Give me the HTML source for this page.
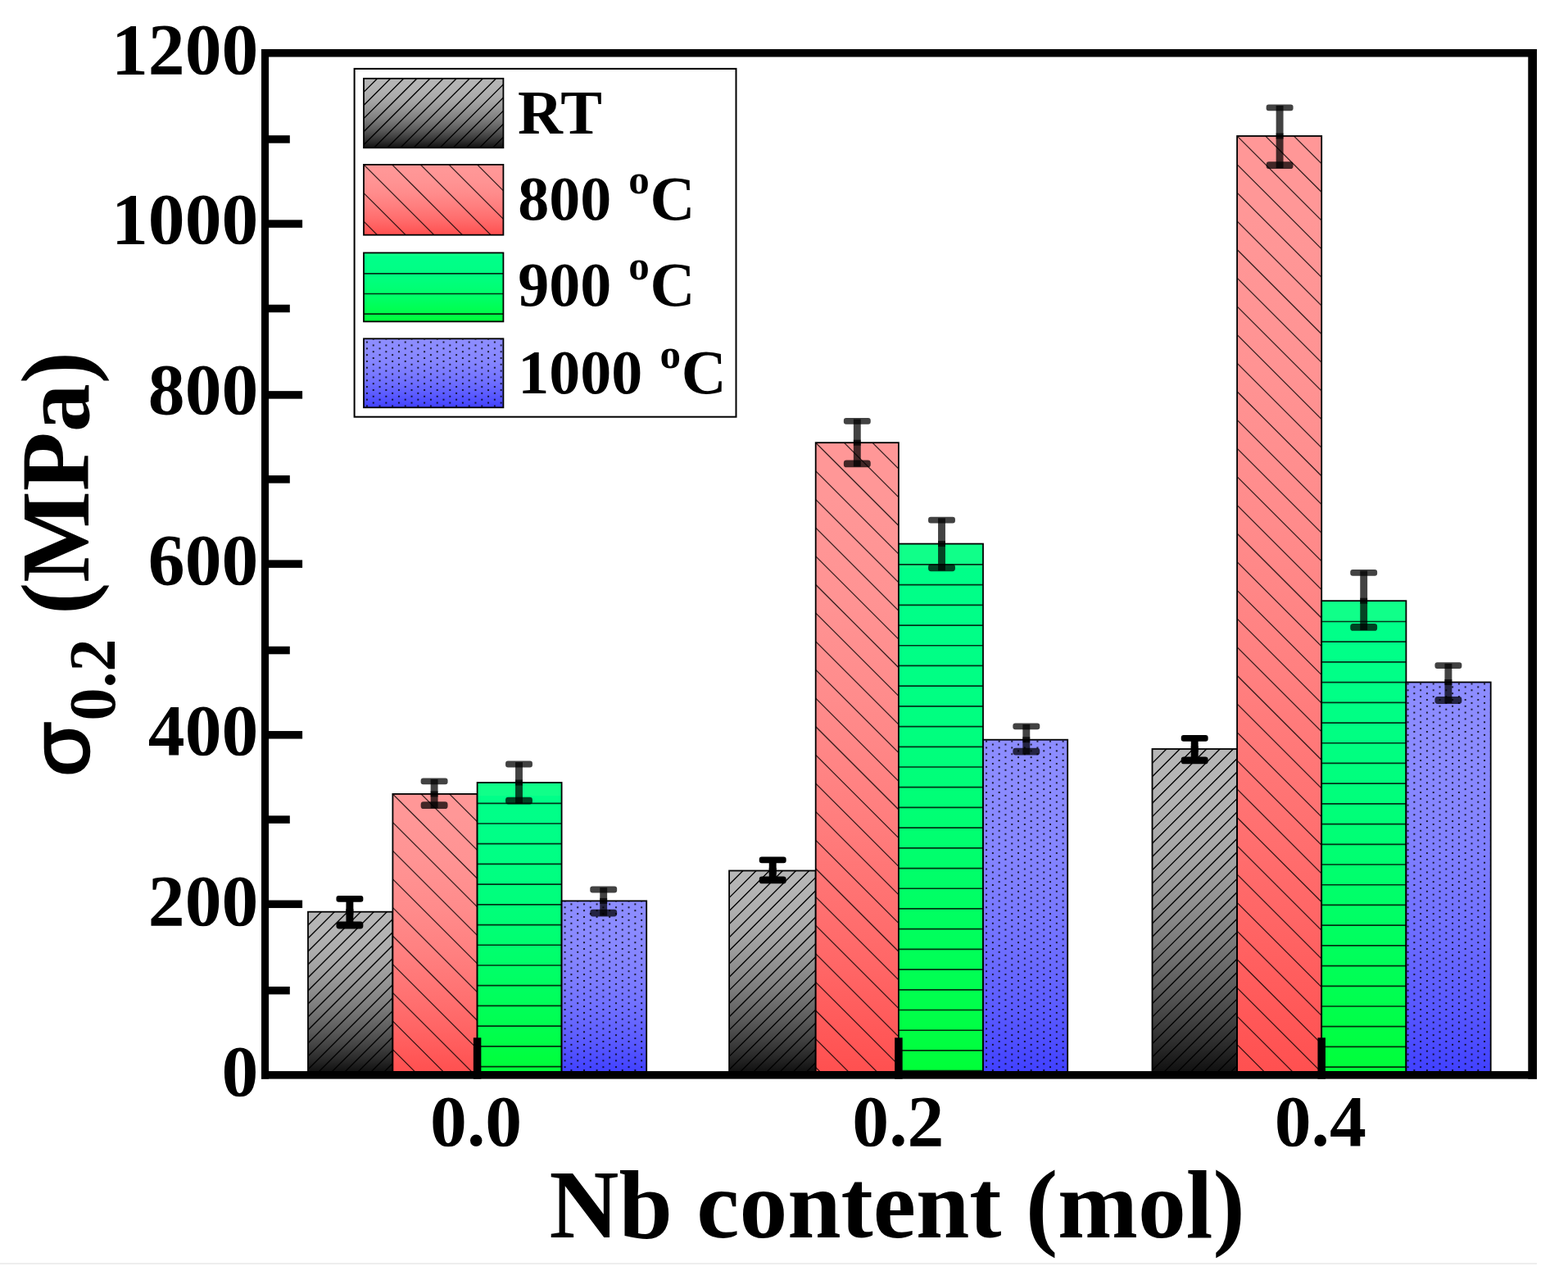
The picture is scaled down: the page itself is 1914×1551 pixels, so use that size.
<!DOCTYPE html>
<html lang="en"><head><meta charset="utf-8"><title>Yield strength vs Nb content</title>
<style>
html,body{margin:0;padding:0;background:#fff;}
body{width:1914px;height:1551px;overflow:hidden;}
svg{display:block;}
text{font-family:"Liberation Serif","DejaVu Serif",serif;font-weight:bold;fill:#000;}
.h{stroke:#000;stroke-width:1.50;fill:none;}
.b{stroke:#000;stroke-width:1.80;fill:none;}
</style></head><body>
<svg width="1914" height="1551" viewBox="0 0 1914 1551">
<defs>
<linearGradient id="g0" x1="0" y1="0" x2="0" y2="1"><stop offset="0.0000" stop-color="#b6b6b6"/><stop offset="0.0833" stop-color="#b5b5b5"/><stop offset="0.1667" stop-color="#b1b1b1"/><stop offset="0.2500" stop-color="#acacac"/><stop offset="0.3333" stop-color="#a4a4a4"/><stop offset="0.4167" stop-color="#999999"/><stop offset="0.5000" stop-color="#8c8c8c"/><stop offset="0.5833" stop-color="#7e7e7e"/><stop offset="0.6667" stop-color="#6c6c6c"/><stop offset="0.7500" stop-color="#595959"/><stop offset="0.8333" stop-color="#434343"/><stop offset="0.9167" stop-color="#2b2b2b"/><stop offset="1.0000" stop-color="#101010"/></linearGradient>
<linearGradient id="g1" x1="0" y1="0" x2="0" y2="1"><stop offset="0.0000" stop-color="#ff9797"/><stop offset="0.0833" stop-color="#ff9797"/><stop offset="0.1667" stop-color="#ff9595"/><stop offset="0.2500" stop-color="#ff9393"/><stop offset="0.3333" stop-color="#ff8f8f"/><stop offset="0.4167" stop-color="#ff8b8b"/><stop offset="0.5000" stop-color="#ff8585"/><stop offset="0.5833" stop-color="#ff7f7f"/><stop offset="0.6667" stop-color="#ff7777"/><stop offset="0.7500" stop-color="#ff6f6f"/><stop offset="0.8333" stop-color="#ff6666"/><stop offset="0.9167" stop-color="#ff5b5b"/><stop offset="1.0000" stop-color="#ff5050"/></linearGradient>
<linearGradient id="g2" x1="0" y1="0" x2="0" y2="1"><stop offset="0.0000" stop-color="#10ff89"/><stop offset="0.0450" stop-color="#10ff89"/><stop offset="0.0460" stop-color="#00ff89"/><stop offset="0.0833" stop-color="#00ff88"/><stop offset="0.1667" stop-color="#00ff87"/><stop offset="0.2500" stop-color="#00ff84"/><stop offset="0.3333" stop-color="#00ff80"/><stop offset="0.4167" stop-color="#00ff7b"/><stop offset="0.5000" stop-color="#00ff75"/><stop offset="0.5833" stop-color="#00ff6d"/><stop offset="0.6667" stop-color="#00ff65"/><stop offset="0.7500" stop-color="#00ff5b"/><stop offset="0.8333" stop-color="#00ff51"/><stop offset="0.9167" stop-color="#00ff45"/><stop offset="1.0000" stop-color="#00ff38"/></linearGradient>
<linearGradient id="g3" x1="0" y1="0" x2="0" y2="1"><stop offset="0.0000" stop-color="#8d8dff"/><stop offset="0.0833" stop-color="#8c8cff"/><stop offset="0.1667" stop-color="#8b8bff"/><stop offset="0.2500" stop-color="#8888ff"/><stop offset="0.3333" stop-color="#8585ff"/><stop offset="0.4167" stop-color="#8080ff"/><stop offset="0.5000" stop-color="#7a7aff"/><stop offset="0.5833" stop-color="#7373ff"/><stop offset="0.6667" stop-color="#6b6bff"/><stop offset="0.7500" stop-color="#6262ff"/><stop offset="0.8333" stop-color="#5858ff"/><stop offset="0.9167" stop-color="#4d4dff"/><stop offset="1.0000" stop-color="#4141ff"/></linearGradient>
<pattern id="dots" patternUnits="userSpaceOnUse" x="693.502" y="1101.452" width="15.590" height="7.794">
<rect x="2.897" y="0.948" width="2" height="2" fill="#000" fill-opacity="0.8"/>
<rect x="10.692" y="4.845" width="2" height="2" fill="#000" fill-opacity="0.8"/>
</pattern>
</defs>
<rect x="0" y="0" width="1914" height="1551" fill="#fff"/>
<rect x="0" y="1541" width="1876" height="2" fill="#eeeeee"/>
<g id="bars">
<clipPath id="c0"><rect x="376.00" y="1112.70" width="103.40" height="195.40"/></clipPath>
<rect x="376.00" y="1112.70" width="103.40" height="195.40" fill="url(#g0)"/>
<path clip-path="url(#c0)" fill="none" stroke="#000" stroke-opacity="1.00" stroke-width="1.35" shape-rendering="auto" d="M394.30 1110.70 L194.90 1310.10M410.30 1110.70 L210.90 1310.10M426.30 1110.70 L226.90 1310.10M442.30 1110.70 L242.90 1310.10M458.30 1110.70 L258.90 1310.10M474.30 1110.70 L274.90 1310.10M490.30 1110.70 L290.90 1310.10M506.30 1110.70 L306.90 1310.10M522.30 1110.70 L322.90 1310.10M538.30 1110.70 L338.90 1310.10M554.30 1110.70 L354.90 1310.10M570.30 1110.70 L370.90 1310.10M586.30 1110.70 L386.90 1310.10M602.30 1110.70 L402.90 1310.10M618.30 1110.70 L418.90 1310.10M634.30 1110.70 L434.90 1310.10M650.30 1110.70 L450.90 1310.10M666.30 1110.70 L466.90 1310.10"/>
<rect class="b" x="376.00" y="1112.70" width="103.40" height="195.40"/>
<clipPath id="c1"><rect x="479.40" y="968.90" width="103.20" height="339.20"/></clipPath>
<rect x="479.40" y="968.90" width="103.20" height="339.20" fill="url(#g1)"/>
<path clip-path="url(#c1)" fill="none" stroke="#000" stroke-opacity="0.78" stroke-width="1.25" shape-rendering="auto" d="M130.90 966.90 L474.10 1310.10M165.55 966.90 L508.75 1310.10M200.20 966.90 L543.40 1310.10M234.85 966.90 L578.05 1310.10M269.50 966.90 L612.70 1310.10M304.15 966.90 L647.35 1310.10M338.80 966.90 L682.00 1310.10M373.45 966.90 L716.65 1310.10M408.10 966.90 L751.30 1310.10M442.75 966.90 L785.95 1310.10M477.40 966.90 L820.60 1310.10M512.05 966.90 L855.25 1310.10M546.70 966.90 L889.90 1310.10"/>
<rect class="b" x="479.40" y="968.90" width="103.20" height="339.20"/>
<clipPath id="c2"><rect x="582.60" y="955.00" width="103.00" height="353.10"/></clipPath>
<rect x="582.60" y="955.00" width="103.00" height="353.10" fill="url(#g2)"/>
<path clip-path="url(#c2)" fill="none" stroke="#000" stroke-opacity="0.80" stroke-width="1.70" shape-rendering="auto" d="M582.60 980.30 H685.60M582.60 1005.01 H685.60M582.60 1029.72 H685.60M582.60 1054.43 H685.60M582.60 1079.14 H685.60M582.60 1103.85 H685.60M582.60 1128.56 H685.60M582.60 1153.27 H685.60M582.60 1177.98 H685.60M582.60 1202.69 H685.60M582.60 1227.40 H685.60M582.60 1252.11 H685.60M582.60 1276.82 H685.60M582.60 1301.53 H685.60"/>
<rect class="b" x="582.60" y="955.00" width="103.00" height="353.10"/>
<clipPath id="c3"><rect x="685.60" y="1099.40" width="103.60" height="208.70"/></clipPath>
<rect x="685.60" y="1099.40" width="103.60" height="208.70" fill="url(#g3)"/>
<rect x="685.60" y="1099.40" width="103.60" height="208.70" fill="url(#dots)"/>
<rect class="b" x="685.60" y="1099.40" width="103.60" height="208.70"/>
<clipPath id="c4"><rect x="890.10" y="1062.50" width="105.60" height="245.60"/></clipPath>
<rect x="890.10" y="1062.50" width="105.60" height="245.60" fill="url(#g0)"/>
<path clip-path="url(#c4)" fill="none" stroke="#000" stroke-opacity="1.00" stroke-width="1.35" shape-rendering="auto" d="M908.95 1060.50 L659.35 1310.10M925.10 1060.50 L675.50 1310.10M941.25 1060.50 L691.65 1310.10M957.40 1060.50 L707.80 1310.10M973.55 1060.50 L723.95 1310.10M989.70 1060.50 L740.10 1310.10M1005.85 1060.50 L756.25 1310.10M1022.00 1060.50 L772.40 1310.10M1038.15 1060.50 L788.55 1310.10M1054.30 1060.50 L804.70 1310.10M1070.45 1060.50 L820.85 1310.10M1086.60 1060.50 L837.00 1310.10M1102.75 1060.50 L853.15 1310.10M1118.90 1060.50 L869.30 1310.10M1135.05 1060.50 L885.45 1310.10M1151.20 1060.50 L901.60 1310.10M1167.35 1060.50 L917.75 1310.10M1183.50 1060.50 L933.90 1310.10M1199.65 1060.50 L950.05 1310.10M1215.80 1060.50 L966.20 1310.10M1231.95 1060.50 L982.35 1310.10"/>
<rect class="b" x="890.10" y="1062.50" width="105.60" height="245.60"/>
<clipPath id="c5"><rect x="995.70" y="540.20" width="101.20" height="767.90"/></clipPath>
<rect x="995.70" y="540.20" width="101.20" height="767.90" fill="url(#g1)"/>
<path clip-path="url(#c5)" fill="none" stroke="#000" stroke-opacity="0.78" stroke-width="1.25" shape-rendering="auto" d="M196.75 538.20 L968.65 1310.10M231.40 538.20 L1003.30 1310.10M266.05 538.20 L1037.95 1310.10M300.70 538.20 L1072.60 1310.10M335.35 538.20 L1107.25 1310.10M370.00 538.20 L1141.90 1310.10M404.65 538.20 L1176.55 1310.10M439.30 538.20 L1211.20 1310.10M473.95 538.20 L1245.85 1310.10M508.60 538.20 L1280.50 1310.10M543.25 538.20 L1315.15 1310.10M577.90 538.20 L1349.80 1310.10M612.55 538.20 L1384.45 1310.10M647.20 538.20 L1419.10 1310.10M681.85 538.20 L1453.75 1310.10M716.50 538.20 L1488.40 1310.10M751.15 538.20 L1523.05 1310.10M785.80 538.20 L1557.70 1310.10M820.45 538.20 L1592.35 1310.10M855.10 538.20 L1627.00 1310.10M889.75 538.20 L1661.65 1310.10M924.40 538.20 L1696.30 1310.10M959.05 538.20 L1730.95 1310.10M993.70 538.20 L1765.60 1310.10M1028.35 538.20 L1800.25 1310.10M1063.00 538.20 L1834.90 1310.10"/>
<rect class="b" x="995.70" y="540.20" width="101.20" height="767.90"/>
<clipPath id="c6"><rect x="1096.90" y="663.60" width="103.10" height="644.50"/></clipPath>
<rect x="1096.90" y="663.60" width="103.10" height="644.50" fill="url(#g2)"/>
<path clip-path="url(#c6)" fill="none" stroke="#000" stroke-opacity="0.80" stroke-width="1.70" shape-rendering="auto" d="M1096.90 688.90 H1200.00M1096.90 713.61 H1200.00M1096.90 738.32 H1200.00M1096.90 763.03 H1200.00M1096.90 787.74 H1200.00M1096.90 812.45 H1200.00M1096.90 837.16 H1200.00M1096.90 861.87 H1200.00M1096.90 886.58 H1200.00M1096.90 911.29 H1200.00M1096.90 936.00 H1200.00M1096.90 960.71 H1200.00M1096.90 985.42 H1200.00M1096.90 1010.13 H1200.00M1096.90 1034.84 H1200.00M1096.90 1059.55 H1200.00M1096.90 1084.26 H1200.00M1096.90 1108.97 H1200.00M1096.90 1133.68 H1200.00M1096.90 1158.39 H1200.00M1096.90 1183.10 H1200.00M1096.90 1207.81 H1200.00M1096.90 1232.52 H1200.00M1096.90 1257.23 H1200.00M1096.90 1281.94 H1200.00M1096.90 1306.65 H1200.00"/>
<rect class="b" x="1096.90" y="663.60" width="103.10" height="644.50"/>
<clipPath id="c7"><rect x="1200.00" y="902.70" width="103.20" height="405.40"/></clipPath>
<rect x="1200.00" y="902.70" width="103.20" height="405.40" fill="url(#g3)"/>
<rect x="1200.00" y="902.70" width="103.20" height="405.40" fill="url(#dots)"/>
<rect class="b" x="1200.00" y="902.70" width="103.20" height="405.40"/>
<clipPath id="c8"><rect x="1406.50" y="914.00" width="103.60" height="394.10"/></clipPath>
<rect x="1406.50" y="914.00" width="103.60" height="394.10" fill="url(#g0)"/>
<path clip-path="url(#c8)" fill="none" stroke="#000" stroke-opacity="1.00" stroke-width="1.35" shape-rendering="auto" d="M1425.90 912.00 L1027.80 1310.10M1442.20 912.00 L1044.10 1310.10M1458.50 912.00 L1060.40 1310.10M1474.80 912.00 L1076.70 1310.10M1491.10 912.00 L1093.00 1310.10M1507.40 912.00 L1109.30 1310.10M1523.70 912.00 L1125.60 1310.10M1540.00 912.00 L1141.90 1310.10M1556.30 912.00 L1158.20 1310.10M1572.60 912.00 L1174.50 1310.10M1588.90 912.00 L1190.80 1310.10M1605.20 912.00 L1207.10 1310.10M1621.50 912.00 L1223.40 1310.10M1637.80 912.00 L1239.70 1310.10M1654.10 912.00 L1256.00 1310.10M1670.40 912.00 L1272.30 1310.10M1686.70 912.00 L1288.60 1310.10M1703.00 912.00 L1304.90 1310.10M1719.30 912.00 L1321.20 1310.10M1735.60 912.00 L1337.50 1310.10M1751.90 912.00 L1353.80 1310.10M1768.20 912.00 L1370.10 1310.10M1784.50 912.00 L1386.40 1310.10M1800.80 912.00 L1402.70 1310.10M1817.10 912.00 L1419.00 1310.10M1833.40 912.00 L1435.30 1310.10M1849.70 912.00 L1451.60 1310.10M1866.00 912.00 L1467.90 1310.10M1882.30 912.00 L1484.20 1310.10M1898.60 912.00 L1500.50 1310.10"/>
<rect class="b" x="1406.50" y="914.00" width="103.60" height="394.10"/>
<clipPath id="c9"><rect x="1510.10" y="166.00" width="103.10" height="1142.10"/></clipPath>
<rect x="1510.10" y="166.00" width="103.10" height="1142.10" fill="url(#g1)"/>
<path clip-path="url(#c9)" fill="none" stroke="#000" stroke-opacity="0.78" stroke-width="1.25" shape-rendering="auto" d="M364.65 164.00 L1510.75 1310.10M399.30 164.00 L1545.40 1310.10M433.95 164.00 L1580.05 1310.10M468.60 164.00 L1614.70 1310.10M503.25 164.00 L1649.35 1310.10M537.90 164.00 L1684.00 1310.10M572.55 164.00 L1718.65 1310.10M607.20 164.00 L1753.30 1310.10M641.85 164.00 L1787.95 1310.10M676.50 164.00 L1822.60 1310.10M711.15 164.00 L1857.25 1310.10M745.80 164.00 L1891.90 1310.10M780.45 164.00 L1926.55 1310.10M815.10 164.00 L1961.20 1310.10M849.75 164.00 L1995.85 1310.10M884.40 164.00 L2030.50 1310.10M919.05 164.00 L2065.15 1310.10M953.70 164.00 L2099.80 1310.10M988.35 164.00 L2134.45 1310.10M1023.00 164.00 L2169.10 1310.10M1057.65 164.00 L2203.75 1310.10M1092.30 164.00 L2238.40 1310.10M1126.95 164.00 L2273.05 1310.10M1161.60 164.00 L2307.70 1310.10M1196.25 164.00 L2342.35 1310.10M1230.90 164.00 L2377.00 1310.10M1265.55 164.00 L2411.65 1310.10M1300.20 164.00 L2446.30 1310.10M1334.85 164.00 L2480.95 1310.10M1369.50 164.00 L2515.60 1310.10M1404.15 164.00 L2550.25 1310.10M1438.80 164.00 L2584.90 1310.10M1473.45 164.00 L2619.55 1310.10M1508.10 164.00 L2654.20 1310.10M1542.75 164.00 L2688.85 1310.10M1577.40 164.00 L2723.50 1310.10"/>
<rect class="b" x="1510.10" y="166.00" width="103.10" height="1142.10"/>
<clipPath id="c10"><rect x="1613.20" y="733.20" width="103.20" height="574.90"/></clipPath>
<rect x="1613.20" y="733.20" width="103.20" height="574.90" fill="url(#g2)"/>
<path clip-path="url(#c10)" fill="none" stroke="#000" stroke-opacity="0.80" stroke-width="1.70" shape-rendering="auto" d="M1613.20 758.50 H1716.40M1613.20 783.21 H1716.40M1613.20 807.92 H1716.40M1613.20 832.63 H1716.40M1613.20 857.34 H1716.40M1613.20 882.05 H1716.40M1613.20 906.76 H1716.40M1613.20 931.47 H1716.40M1613.20 956.18 H1716.40M1613.20 980.89 H1716.40M1613.20 1005.60 H1716.40M1613.20 1030.31 H1716.40M1613.20 1055.02 H1716.40M1613.20 1079.73 H1716.40M1613.20 1104.44 H1716.40M1613.20 1129.15 H1716.40M1613.20 1153.86 H1716.40M1613.20 1178.57 H1716.40M1613.20 1203.28 H1716.40M1613.20 1227.99 H1716.40M1613.20 1252.70 H1716.40M1613.20 1277.41 H1716.40M1613.20 1302.12 H1716.40"/>
<rect class="b" x="1613.20" y="733.20" width="103.20" height="574.90"/>
<clipPath id="c11"><rect x="1716.40" y="832.50" width="103.30" height="475.60"/></clipPath>
<rect x="1716.40" y="832.50" width="103.30" height="475.60" fill="url(#g3)"/>
<rect x="1716.40" y="832.50" width="103.30" height="475.60" fill="url(#dots)"/>
<rect class="b" x="1716.40" y="832.50" width="103.30" height="475.60"/>
</g>
<g id="errors">
<g fill="#000" fill-opacity="1.00"><rect x="422.45" y="1094.40" width="8.90" height="21.80"/><rect x="422.45" y="1109.20" width="8.90" height="23.30"/><rect x="410.45" y="1092.90" width="32.90" height="7.80" rx="3" ry="3"/><rect x="410.45" y="1124.60" width="32.90" height="8.80" rx="3.4" ry="3.4"/></g>
<g fill="#000" fill-opacity="0.74"><rect x="525.65" y="950.90" width="8.90" height="21.50"/><rect x="525.65" y="965.40" width="8.90" height="20.80"/><rect x="513.65" y="949.40" width="32.90" height="7.80" rx="3" ry="3"/><rect x="513.65" y="978.30" width="32.90" height="8.80" rx="3.4" ry="3.4"/></g>
<g fill="#000" fill-opacity="0.74"><rect x="629.05" y="930.10" width="8.90" height="28.40"/><rect x="629.05" y="951.50" width="8.90" height="29.10"/><rect x="617.05" y="928.60" width="32.90" height="7.80" rx="3" ry="3"/><rect x="617.05" y="972.70" width="32.90" height="8.80" rx="3.4" ry="3.4"/></g>
<g fill="#000" fill-opacity="0.74"><rect x="732.25" y="1083.10" width="8.90" height="19.80"/><rect x="732.25" y="1095.90" width="8.90" height="21.70"/><rect x="720.25" y="1081.60" width="32.90" height="7.80" rx="3" ry="3"/><rect x="720.25" y="1109.70" width="32.90" height="8.80" rx="3.4" ry="3.4"/></g>
<g fill="#000" fill-opacity="1.00"><rect x="938.75" y="1047.00" width="8.90" height="19.00"/><rect x="938.75" y="1059.00" width="8.90" height="18.40"/><rect x="926.75" y="1045.50" width="32.90" height="7.80" rx="3" ry="3"/><rect x="926.75" y="1069.50" width="32.90" height="8.80" rx="3.4" ry="3.4"/></g>
<g fill="#000" fill-opacity="0.74"><rect x="1041.85" y="511.50" width="8.90" height="32.20"/><rect x="1041.85" y="536.70" width="8.90" height="32.70"/><rect x="1029.85" y="510.00" width="32.90" height="7.80" rx="3" ry="3"/><rect x="1029.85" y="561.50" width="32.90" height="8.80" rx="3.4" ry="3.4"/></g>
<g fill="#000" fill-opacity="0.74"><rect x="1145.05" y="632.30" width="8.90" height="34.80"/><rect x="1145.05" y="660.10" width="8.90" height="36.20"/><rect x="1133.05" y="630.80" width="32.90" height="7.80" rx="3" ry="3"/><rect x="1133.05" y="688.40" width="32.90" height="8.80" rx="3.4" ry="3.4"/></g>
<g fill="#000" fill-opacity="0.74"><rect x="1248.35" y="884.00" width="8.90" height="22.20"/><rect x="1248.35" y="899.20" width="8.90" height="21.40"/><rect x="1236.35" y="882.50" width="32.90" height="7.80" rx="3" ry="3"/><rect x="1236.35" y="912.70" width="32.90" height="8.80" rx="3.4" ry="3.4"/></g>
<g fill="#000" fill-opacity="1.00"><rect x="1453.75" y="898.40" width="8.90" height="19.10"/><rect x="1453.75" y="910.50" width="8.90" height="20.90"/><rect x="1441.75" y="896.90" width="32.90" height="7.80" rx="3" ry="3"/><rect x="1441.75" y="923.50" width="32.90" height="8.80" rx="3.4" ry="3.4"/></g>
<g fill="#000" fill-opacity="0.74"><rect x="1557.65" y="128.90" width="8.90" height="40.60"/><rect x="1557.65" y="162.50" width="8.90" height="42.70"/><rect x="1545.65" y="127.40" width="32.90" height="7.80" rx="3" ry="3"/><rect x="1545.65" y="197.30" width="32.90" height="8.80" rx="3.4" ry="3.4"/></g>
<g fill="#000" fill-opacity="0.74"><rect x="1660.25" y="696.50" width="8.90" height="40.20"/><rect x="1660.25" y="729.70" width="8.90" height="39.20"/><rect x="1648.25" y="695.00" width="32.90" height="7.80" rx="3" ry="3"/><rect x="1648.25" y="761.00" width="32.90" height="8.80" rx="3.4" ry="3.4"/></g>
<g fill="#000" fill-opacity="0.74"><rect x="1763.45" y="809.80" width="8.90" height="26.20"/><rect x="1763.45" y="829.00" width="8.90" height="29.00"/><rect x="1751.45" y="808.30" width="32.90" height="7.80" rx="3" ry="3"/><rect x="1751.45" y="850.10" width="32.90" height="8.80" rx="3.4" ry="3.4"/></g>
</g>
<g id="axes" fill="#000">
<rect x="319.00" y="60.00" width="9.10" height="1256.60"/>
<rect x="1865.30" y="60.00" width="10.70" height="1256.60"/>
<rect x="319.00" y="60.00" width="1557.00" height="9.50"/>
<rect x="319.00" y="1307.10" width="1557.00" height="9.50"/>
<rect x="319.00" y="1203.95" width="34.80" height="9.50"/>
<rect x="319.00" y="1098.55" width="50.10" height="9.50"/>
<rect x="319.00" y="995.35" width="34.80" height="9.50"/>
<rect x="319.00" y="892.05" width="50.10" height="9.50"/>
<rect x="319.00" y="788.80" width="34.80" height="9.50"/>
<rect x="319.00" y="683.40" width="50.10" height="9.50"/>
<rect x="319.00" y="580.15" width="34.80" height="9.50"/>
<rect x="319.00" y="477.15" width="50.10" height="9.50"/>
<rect x="319.00" y="371.75" width="34.80" height="9.50"/>
<rect x="319.00" y="268.35" width="50.10" height="9.50"/>
<rect x="319.00" y="165.20" width="34.80" height="9.50"/>
<rect x="577.85" y="1266.30" width="9.50" height="50.30"/>
<rect x="1092.15" y="1266.30" width="9.50" height="50.30"/>
<rect x="1608.45" y="1266.30" width="9.50" height="50.30"/>
</g>
<g id="ylabels" font-size="89.7" text-anchor="end">
<text x="315.4" y="1336.70">0</text>
<text x="315.4" y="1128.85">200</text>
<text x="315.4" y="921.00">400</text>
<text x="315.4" y="713.15">600</text>
<text x="315.4" y="505.30">800</text>
<text x="315.4" y="297.45">1000</text>
<text x="315.4" y="89.60">1200</text>
</g>
<g id="xlabels" font-size="89.7" text-anchor="middle">
<text x="581.10" y="1398.0">0.0</text>
<text x="1096.40" y="1398.0">0.2</text>
<text x="1611.70" y="1398.0">0.4</text>
</g>
<text id="xtitle" x="1095.1" y="1510.0" font-size="117.6" text-anchor="middle">Nb content (mol)</text>
<g id="ytitle">
<text transform="translate(108.00 947.70) rotate(-90) scale(1 0.920)" font-size="108.0" style="font-family:'Liberation Sans','DejaVu Sans',sans-serif;font-weight:normal" stroke="#000" stroke-width="2.8">σ</text>
<text transform="translate(108 946) rotate(-90)" font-size="118"><tspan x="66.5" y="32.3" font-size="80">0.2</tspan><tspan x="196" y="0">(MPa)</tspan></text>
</g>
<g id="legend">
<rect x="432.6" y="83.9" width="465.9" height="424.8" fill="#fff" stroke="#000" stroke-width="2"/>
<clipPath id="c12"><rect x="444.00" y="95.80" width="170.40" height="84.50"/></clipPath>
<rect x="444.00" y="95.80" width="170.40" height="84.50" fill="url(#g0)"/>
<path clip-path="url(#c12)" fill="none" stroke="#000" stroke-opacity="1.00" stroke-width="1.35" shape-rendering="auto" d="M462.60 93.80 L374.10 182.30M478.70 93.80 L390.20 182.30M494.80 93.80 L406.30 182.30M510.90 93.80 L422.40 182.30M527.00 93.80 L438.50 182.30M543.10 93.80 L454.60 182.30M559.20 93.80 L470.70 182.30M575.30 93.80 L486.80 182.30M591.40 93.80 L502.90 182.30M607.50 93.80 L519.00 182.30M623.60 93.80 L535.10 182.30M639.70 93.80 L551.20 182.30M655.80 93.80 L567.30 182.30M671.90 93.80 L583.40 182.30M688.00 93.80 L599.50 182.30"/>
<rect class="b" x="444.00" y="95.80" width="170.40" height="84.50"/>
<text x="632" y="163.10" font-size="76">RT</text>
<clipPath id="c13"><rect x="444.00" y="200.90" width="170.40" height="85.80"/></clipPath>
<rect x="444.00" y="200.90" width="170.40" height="85.80" fill="url(#g1)"/>
<path clip-path="url(#c13)" fill="none" stroke="#000" stroke-opacity="0.78" stroke-width="1.25" shape-rendering="auto" d="M338.05 198.90 L427.85 288.70M372.70 198.90 L462.50 288.70M407.35 198.90 L497.15 288.70M442.00 198.90 L531.80 288.70M476.65 198.90 L566.45 288.70M511.30 198.90 L601.10 288.70M545.95 198.90 L635.75 288.70M580.60 198.90 L670.40 288.70"/>
<rect class="b" x="444.00" y="200.90" width="170.40" height="85.80"/>
<text x="632.3" y="268.00" font-size="76">800 <tspan x="767.3" font-size="51" dy="-31.7">o</tspan><tspan x="793.6" dy="31.7">C</tspan></text>
<clipPath id="c14"><rect x="444.00" y="308.50" width="170.40" height="83.90"/></clipPath>
<rect x="444.00" y="308.50" width="170.40" height="83.90" fill="url(#g2)"/>
<path clip-path="url(#c14)" fill="none" stroke="#000" stroke-opacity="0.80" stroke-width="1.70" shape-rendering="auto" d="M444.00 333.80 H614.40M444.00 358.51 H614.40M444.00 383.22 H614.40"/>
<rect class="b" x="444.00" y="308.50" width="170.40" height="83.90"/>
<text x="632.3" y="373.00" font-size="76">900 <tspan x="767.3" font-size="51" dy="-31.7">o</tspan><tspan x="793.6" dy="31.7">C</tspan></text>
<clipPath id="c15"><rect x="444.00" y="413.30" width="170.40" height="84.00"/></clipPath>
<rect x="444.00" y="413.30" width="170.40" height="84.00" fill="url(#g3)"/>
<rect x="444.00" y="413.30" width="170.40" height="84.00" fill="url(#dots)"/>
<rect class="b" x="444.00" y="413.30" width="170.40" height="84.00"/>
<text x="632.3" y="480.20" font-size="76">1000 <tspan x="805.4" font-size="51" dy="-31.7">o</tspan><tspan x="831.7" dy="31.7">C</tspan></text>
</g>
</svg>
</body></html>
